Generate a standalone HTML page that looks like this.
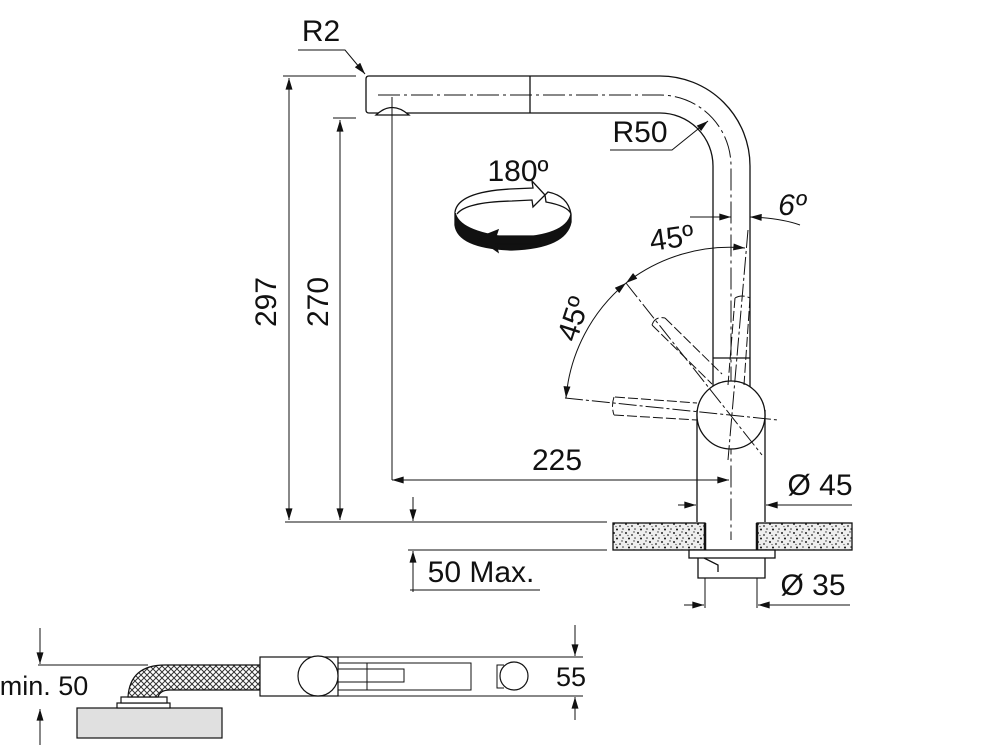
<!DOCTYPE html>
<html><head><meta charset="utf-8"><style>
html,body{margin:0;padding:0;background:#fff;}
svg{display:block;}
text{font-family:"Liberation Sans",Arial,sans-serif;fill:#111;}
</style></head><body>
<svg width="1000" height="746" viewBox="0 0 1000 746" xmlns="http://www.w3.org/2000/svg">
<defs>
<marker id="a" viewBox="0 0 10 6" refX="10" refY="3" markerWidth="18" markerHeight="7" markerUnits="userSpaceOnUse" orient="auto-start-reverse"><path d="M0,0L10,3L0,6z" fill="#111"/></marker>
<pattern id="sp" width="12" height="9" patternUnits="userSpaceOnUse">
<rect width="12" height="9" fill="#eee"/>
<circle cx="2" cy="2" r="1" fill="#222"/><circle cx="8" cy="4" r="0.9" fill="#222"/><circle cx="5" cy="7.5" r="1" fill="#111"/><circle cx="11" cy="7" r="0.8" fill="#333"/><circle cx="10" cy="1" r="0.7" fill="#333"/><circle cx="4" cy="4.5" r="0.6" fill="#444"/>
</pattern>
<pattern id="mesh" width="6" height="6" patternUnits="userSpaceOnUse">
<rect width="6" height="6" fill="#fff"/><path d="M0,0L6,6M6,0L0,6" stroke="#333" stroke-width="1"/>
</pattern>
</defs>
<g fill="none" stroke="#111" stroke-width="1.3">
<path d="M369,76 H660 A90,90 0 0 1 750,166 V390"/>
<path d="M369,113 H660 A53,53 0 0 1 713,166 V390"/>
<path d="M369,76 Q366,76 366,79 V110 Q366,113 369,113"/>
<line x1="530" y1="76" x2="530" y2="113"/>
<path d="M378,95 H660 A71,71 0 0 1 731,166 V540" stroke-dasharray="22,4,3,4" stroke-width="1"/>
<path d="M376,115 Q392,100 409,115 Z" fill="#fff"/>
<line x1="392" y1="97" x2="392" y2="480" stroke-width="1"/>
<line x1="713" y1="358" x2="750" y2="358"/>
<path d="M697,410 V522 M765,410 V522"/>
<circle cx="731" cy="415" r="34" fill="#fff"/>
<g stroke-dasharray="10,3" stroke-width="1">
<path d="M615,397 L697,403 M614,415 L697,420 M614,397 Q611,406 614,415"/>
<path d="M652,325 L712,384 M665,318 L722,374 M652,325 Q655,316 665,318"/>
<path d="M735,298 L728,385 M750,298 L744,385 M735,298 Q742,294 750,298"/>
</g>
<g stroke-dasharray="18,3,3,3" stroke-width="1">
<line x1="565" y1="398" x2="778" y2="420"/>
<line x1="626" y1="283" x2="762" y2="455"/>
<line x1="748" y1="230" x2="728" y2="460"/>
</g>
<path d="M626,283 A168,168 0 0 1 745,248" stroke-width="1" marker-start="url(#a)" marker-end="url(#a)"/>
<path d="M566,398 A168,168 0 0 1 626,283" stroke-width="1" marker-start="url(#a)" marker-end="url(#a)"/>
<line x1="690" y1="217" x2="731" y2="217" stroke-width="1" marker-end="url(#a)"/>
<path d="M800,225 Q780,218 750,217" stroke-width="1" marker-end="url(#a)"/>
<rect x="613" y="523" width="92" height="27" fill="url(#sp)"/>
<rect x="757" y="523" width="95" height="27" fill="url(#sp)"/>
<line x1="705" y1="523" x2="705" y2="550" stroke-width="2.5"/>
<line x1="757" y1="523" x2="757" y2="550" stroke-width="2.5"/>
<line x1="285" y1="522" x2="607" y2="522" stroke-width="1"/>
<line x1="408" y1="550" x2="607" y2="550" stroke-width="1"/>
<rect x="689" y="550" width="86" height="8" fill="#fff"/>
<path d="M698,558 V578 H765 V558 M704,558 L718,565 V572"/>
<path d="M705,578 V608 M757,578 V608" stroke-width="1"/>
<g stroke-width="1">
<line x1="283" y1="76" x2="356" y2="76"/>
<line x1="289" y1="78" x2="289" y2="520" marker-start="url(#a)" marker-end="url(#a)"/>
<line x1="333" y1="118" x2="356" y2="118"/>
<line x1="340" y1="120" x2="340" y2="520" marker-start="url(#a)" marker-end="url(#a)"/>
<line x1="392" y1="480" x2="729" y2="480" marker-start="url(#a)" marker-end="url(#a)"/>
<line x1="413" y1="497" x2="413" y2="521" marker-end="url(#a)"/>
<line x1="413" y1="592" x2="413" y2="551" marker-end="url(#a)"/>
<line x1="410" y1="590" x2="540" y2="590"/>
<line x1="678" y1="505" x2="696" y2="505" marker-end="url(#a)"/>
<line x1="852" y1="505" x2="766" y2="505" marker-end="url(#a)"/>
<line x1="684" y1="605" x2="704" y2="605" marker-end="url(#a)"/>
<line x1="850" y1="605" x2="758" y2="605" marker-end="url(#a)"/>
<path d="M298,50 H345 L365,74" marker-end="url(#a)"/>
<path d="M610,150 H672 L708,121" marker-end="url(#a)"/>
</g>
</g>
<g stroke="#111" stroke-width="1.3">
<path d="M455,212 Q458,232 512,238 Q566,236 571,214 L571,222 Q566,248 512,250 Q458,248 455,225 Z" fill="#111"/>
<path d="M478,238 L498,230 L496,236 L540,236 L540,244 L496,244 L498,252 Z" fill="#111"/>
<path d="M455,212 Q458,192 510,189 L533,188 L532,181 L545,195 L533,207 L532,200 L512,201 Q466,202 457,214" fill="#fff"/>
<path d="M545,195 L546,202 Q568,206 571,214 Q568,196 548,192 Z" fill="#fff"/>
</g>
<g font-size="30" text-anchor="middle">
<text x="321" y="41">R2</text>
<text x="640" y="142">R50</text>
<text x="518" y="181">180º</text>
<text x="792" y="215" font-style="italic">6º</text>
<text x="672" y="248" transform="rotate(-8 672 240)">45º</text>
<text x="0" y="0" transform="translate(583,322) rotate(-72)">45º</text>
<text x="0" y="0" transform="translate(276,302) rotate(-90)">297</text>
<text x="0" y="0" transform="translate(328,302) rotate(-90)">270</text>
<text x="557" y="470">225</text>
<text x="820" y="495">Ø 45</text>
<text x="813" y="595">Ø 35</text>
<text x="481" y="582">50 Max.</text>
</g>
<g fill="none" stroke="#111" stroke-width="1.2">
<rect x="77" y="708" width="145" height="30" fill="#e0e0e0"/>
<rect x="117" y="703" width="53" height="5" fill="#fff"/>
<rect x="121" y="697" width="46" height="6" fill="#fff"/>
<path d="M128,697 Q130,665 165,665 H260 V690 H170 Q160,690 158,697 Z" fill="url(#mesh)"/>
<rect x="260" y="657" width="78" height="39" fill="#fff"/>
<line x1="338" y1="657" x2="583" y2="657" stroke-width="1"/>
<line x1="338" y1="696" x2="583" y2="696" stroke-width="1"/>
<path d="M338,663 H471 V690 H338 M367,663 V690" stroke-width="1"/>
<rect x="338" y="669" width="66" height="13" stroke-width="1"/>
<circle cx="318" cy="676" r="20" fill="#fff"/>
<path d="M504,665 H497 V688 H504" stroke-width="1"/>
<circle cx="514" cy="676" r="14" fill="#fff"/>
<g stroke-width="1">
<line x1="38" y1="665" x2="148" y2="665"/>
<line x1="40" y1="628" x2="40" y2="664" marker-end="url(#a)"/>
<line x1="40" y1="745" x2="40" y2="709" marker-end="url(#a)"/>
<line x1="575" y1="625" x2="575" y2="656" marker-end="url(#a)"/>
<line x1="575" y1="720" x2="575" y2="697" marker-end="url(#a)"/>
</g>
</g>
<text x="44" y="695" font-size="27" text-anchor="middle">min. 50</text>
<text x="571" y="686" font-size="27" text-anchor="middle">55</text>
</svg>
</body></html>
